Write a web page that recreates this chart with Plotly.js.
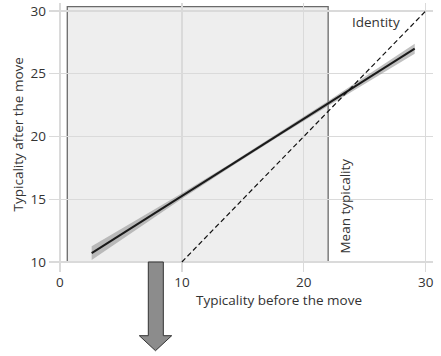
<!DOCTYPE html>
<html>
<head>
<meta charset="utf-8">
<script src="https://cdn.plot.ly/plotly-3.0.1.min.js"></script>
<style>html,body{margin:0;padding:0;background:#fff;}#chart{width:441px;height:356px;}</style>
</head>
<body>
<div id="chart"></div>
<script>
// Fitted regression line (typicality before -> after)
const fitX = [2.6, 29.1];
const fitY = [10.7, 27.0];
// Confidence band
const bandX  = [2.6, 6, 10, 14, 18, 22, 26, 29.1];
const bandLo = [10.15, 12.41, 15.03, 17.57, 20.03, 22.43, 24.79, 26.60];
const bandHi = [11.25, 13.17, 15.47, 17.85, 20.31, 22.83, 25.39, 27.40];
// Identity line
const identX = [10, 30];
const identY = [10, 30];
// Mean-typicality region
const regionX = [0.6, 22];
const regionY = [10, 30.35];
// Axis ticks
const xTicks = [0, 10, 20, 30];
const yTicks = [10, 15, 20, 25, 30];

const FONT = "Open Sans, sans-serif";
const FS = 13.5;

const traces = [
  {x: bandX.concat(bandX.slice().reverse()), y: bandHi.concat(bandLo.slice().reverse()),
   type: 'scatter', mode: 'lines', fill: 'toself', fillcolor: 'rgba(150,150,150,0.6)',
   line: {width: 0}, hoverinfo: 'skip', showlegend: false},
  {x: fitX, y: fitY, type: 'scatter', mode: 'lines',
   line: {color: '#1a1a1a', width: 2}, showlegend: false},
  {x: identX, y: identY, type: 'scatter', mode: 'lines',
   line: {color: '#111', width: 1.2, dash: '5px,3px'}, showlegend: false}
];

const layout = {
  width: 441, height: 356,
  margin: {l: 49, r: 8, t: 3, b: 84},
  paper_bgcolor: '#fff', plot_bgcolor: '#fff',
  font: {family: FONT, size: FS, color: '#333'},
  showlegend: false,
  xaxis: {range: [-0.9, 30.6], tickvals: xTicks, ticktext: xTicks.map(String),
          showgrid: true, gridcolor: '#dadada', gridwidth: 1.3, zeroline: false,
          showline: false, ticks: '', tickfont: {family: FONT, size: FS, color: '#333'}},
  yaxis: {range: [9.2, 30.64], tickvals: yTicks, ticktext: yTicks.map(String),
          showgrid: true, gridcolor: '#dadada', gridwidth: 1.3, zeroline: false,
          showline: false, ticks: '', ticklabelstandoff: 2,
          tickfont: {family: FONT, size: FS, color: '#333'}},
  shapes: [
    {type: 'rect', xref: 'x', yref: 'y', x0: regionX[0], x1: regionX[1], y0: regionY[0], y1: regionY[1],
     fillcolor: '#eeeeee', line: {color: '#6a6a6a', width: 1.3}, layer: 'below'},
    {type: 'path', xref: 'paper', yref: 'paper',
     path: 'M0.2586,0.0372 L0.2977,0.0372 L0.2977,-0.2368 L0.3195,-0.2368 L0.2773,-0.2926 L0.2352,-0.2368 L0.2586,-0.2368 Z',
     fillcolor: '#8c8c8c', line: {color: '#333', width: 1}, layer: 'above'}
  ],
  annotations: [
    {text: 'Typicality before the move', xref: 'paper', yref: 'paper', x: 0.599, y: -0.104,
     xanchor: 'center', yanchor: 'middle', showarrow: false, font: {family: FONT, size: FS, color: '#333'}},
    {text: 'Typicality after the move', xref: 'paper', yref: 'paper', x: -0.081, y: 0.511,
     xanchor: 'center', yanchor: 'middle', textangle: -90, showarrow: false, font: {family: FONT, size: FS, color: '#333'}},
    {text: 'Identity', xref: 'x', yref: 'y', x: 25.94, y: 29.1, xanchor: 'center', yanchor: 'middle',
     showarrow: false, font: {family: FONT, size: FS, color: '#333'}},
    {text: 'Mean typicality', xref: 'x', yref: 'y', x: 23.3, y: 14.42, xanchor: 'center', yanchor: 'middle',
     textangle: -90, showarrow: false, font: {family: FONT, size: FS, color: '#333'}}
  ]
};

Plotly.newPlot('chart', traces, layout, {staticPlot: true, displayModeBar: false});
</script>
</body>
</html>
